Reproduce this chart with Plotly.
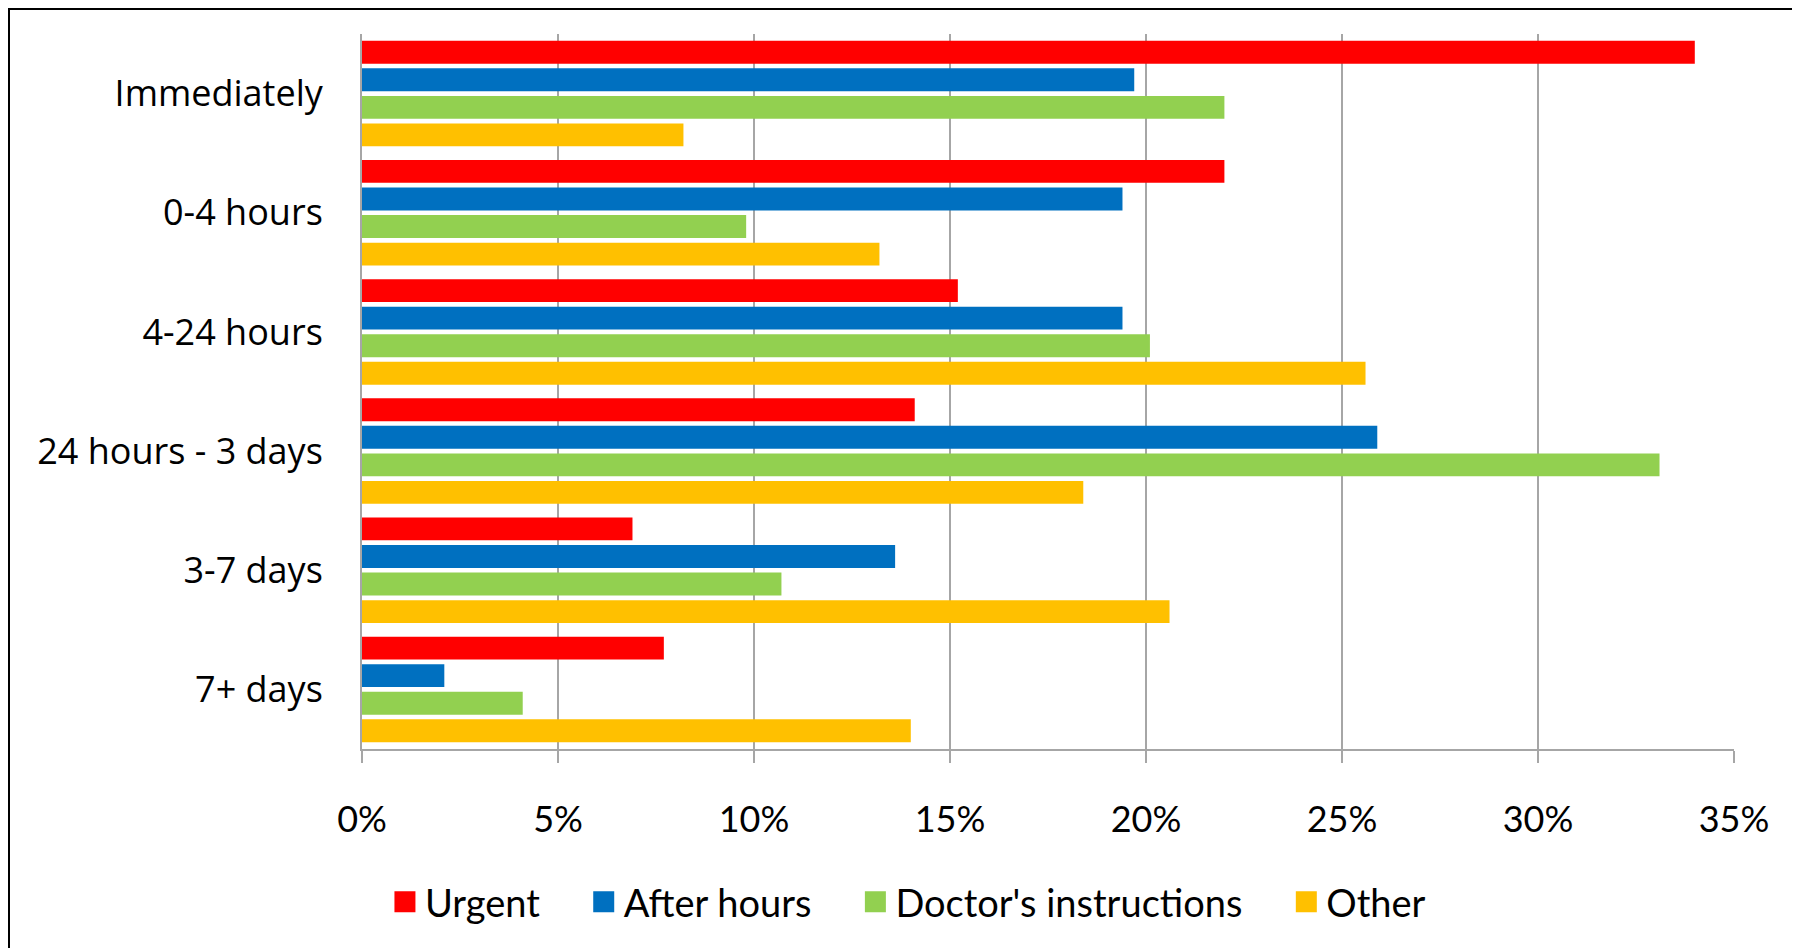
import plotly.graph_objects as go

categories = ["Immediately", "0-4 hours", "4-24 hours", "24 hours - 3 days", "3-7 days", "7+ days"]
urgent = [34.0, 22.0, 15.2, 14.1, 6.9, 7.7]
after_hours = [19.7, 19.4, 19.4, 25.9, 13.6, 2.1]
doctors = [22.0, 9.8, 20.1, 33.1, 10.7, 4.1]
other = [8.2, 13.2, 25.6, 18.4, 20.6, 14.0]
series_names = ["Urgent", "After hours", "Doctor's instructions", "Other"]
colors = ["#FF0000", "#0070C0", "#92D050", "#FFC000"]
values = [urgent, after_hours, doctors, other]

FONT = "Lato"
CAT_FONT = "Open Sans"
fig = go.Figure()
for name, vals, col in zip(series_names, values, colors):
    fig.add_trace(go.Bar(y=categories, x=vals, orientation="h", name=name,
                         marker=dict(color=col, line=dict(width=0)),
                         showlegend=False))
NB = "\u00a0"
for i, (name, col) in enumerate(zip(series_names, colors)):
    pad = NB * 4 if i < len(series_names) - 1 else ""
    fig.add_trace(go.Scatter(x=[None], y=[None], mode="markers", name=name + pad,
                             marker=dict(symbol="square", size=16, color=col,
                                         line=dict(width=5, color=col)),
                             showlegend=True, hoverinfo="skip"))

# page has an 8px body margin; figure sized to fit the 1800x948 window
W, H = 1792, 940
ml, mr, mt, mb = 354, 66, 26, 199
pw, ph = W - ml - mr, H - mt - mb

fig.update_layout(
    width=W, height=H,
    margin=dict(l=ml, r=mr, t=mt, b=mb, autoexpand=False),
    paper_bgcolor="white", plot_bgcolor="white",
    barmode="group", bargap=0.075, bargroupgap=0.17,
    font=dict(family=FONT, color="black", size=36),
    xaxis=dict(range=[0, 35], dtick=5, ticksuffix="%", showgrid=True,
               gridcolor="#A6A6A6", gridwidth=1.5, showline=True,
               linecolor="#A6A6A6", linewidth=2, ticks="outside", ticklen=12,
               tickcolor="#A6A6A6", tickwidth=1.5, zeroline=False,
               tickfont=dict(size=36, family=FONT), ticklabelstandoff=26),
    yaxis=dict(autorange="reversed", showline=True, linecolor="#A6A6A6",
               linewidth=2, ticks="", showgrid=False,
               tickfont=dict(size=36, family=CAT_FONT), ticklabelstandoff=30),
    legend=dict(orientation="h", xref="container", yref="container",
                x=0.5022, xanchor="center", y=1 - 894 / H, yanchor="middle",
                font=dict(size=38, family=FONT), itemclick=False),
    shapes=[dict(type="rect", xref="paper", yref="paper",
                 x0=(0.5 - ml) / pw, x1=(1789.5 - ml) / pw,
                 y0=(H - mb - 1000) / ph, y1=(H - mb - 0.5) / ph,
                 line=dict(color="black", width=3), layer="above")],
)

fig.write_html("out.html")
